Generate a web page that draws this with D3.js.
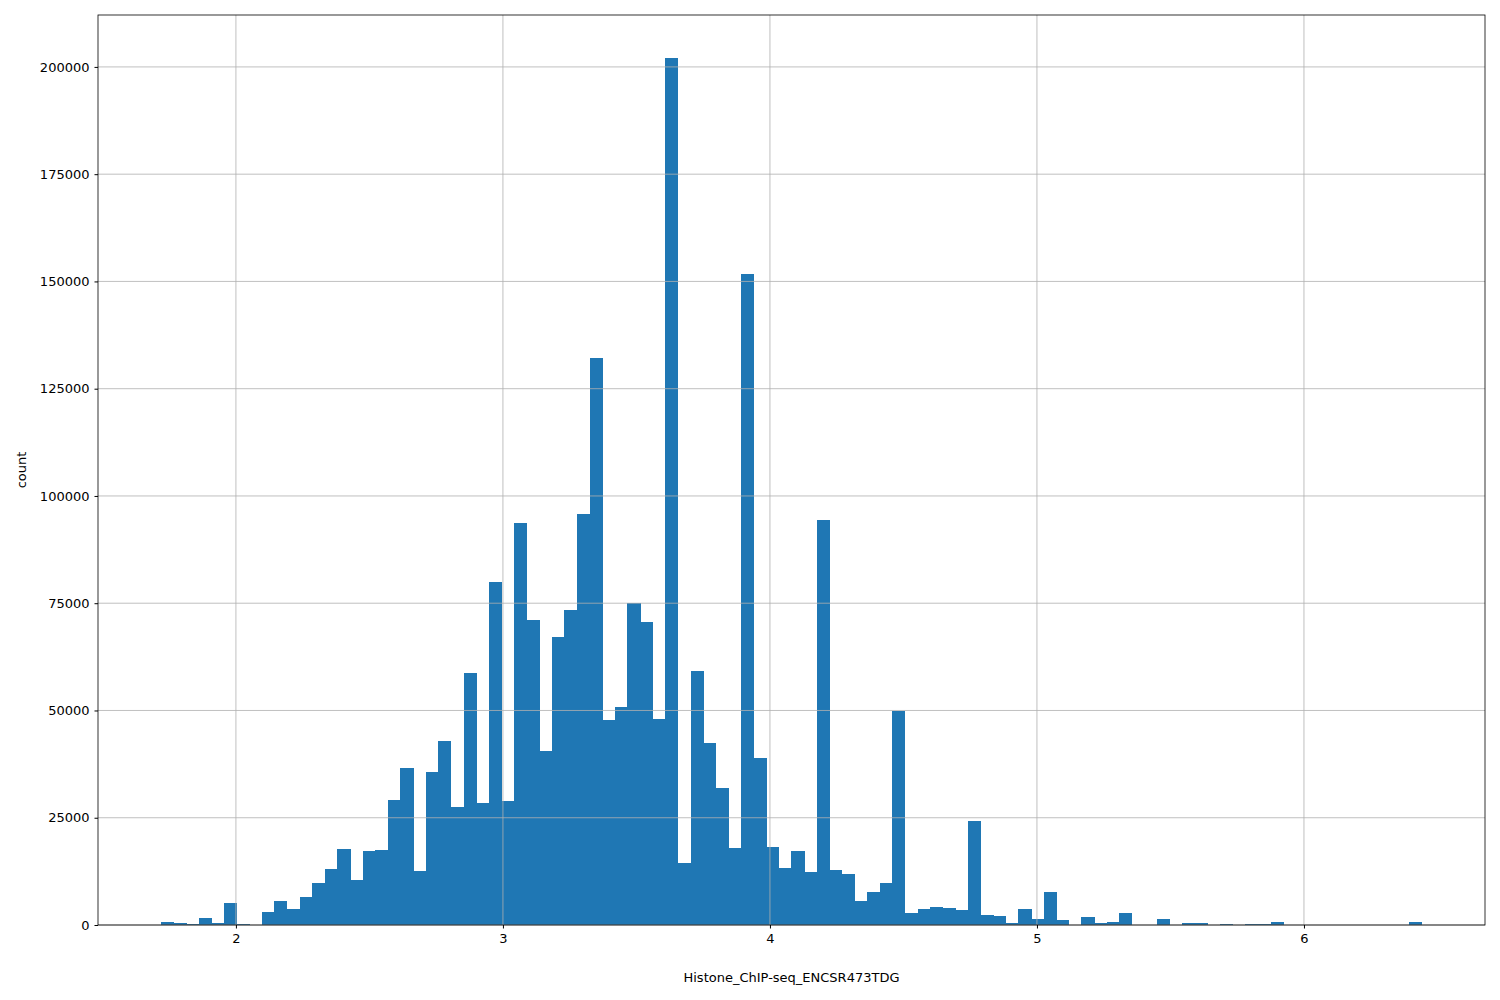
<!DOCTYPE html>
<html><head><meta charset="utf-8">
<script src="https://cdn.jsdelivr.net/npm/d3@7"></script>
<style>body{margin:0;background:#fff}svg{font-family:"DejaVu Sans",sans-serif}</style>
</head><body><svg id="c" width="1500" height="1000"></svg>
<script>
const binStart = 1.719, binWidth = 0.04723;
const counts = [700,500,200,1600,500,5200,200,0,3000,5500,3700,6500,9800,13000,17700,10500,17200,17500,29200,36600,12600,35700,43000,27500,58800,28500,80000,29000,93700,71200,40600,67100,73400,95900,132200,47800,50800,75100,70600,48000,202100,14500,59200,42500,32000,17900,151800,39000,18200,13300,17200,12300,94500,12800,11900,5500,7700,9700,49800,2800,3700,4200,3900,3500,24300,2300,2000,500,3700,1300,7700,1200,0,1800,500,700,2800,0,0,1400,0,400,400,0,200,0,200,200,700,0,0,0,0,0,0,0,0,0,0,700];
const xTicks = [2,3,4,5,6];
const yTicks = [0,25000,50000,75000,100000,125000,150000,175000,200000];
const xLabel = "Histone_ChIP-seq_ENCSR473TDG", yLabel = "count";

const L=98,R=1485,T=15,B=925;
const svg=d3.select("#c");
const x=d3.scaleLinear().domain([1.4835,6.678]).range([L,R]);
const y=d3.scaleLinear().domain([0,212100]).range([B,T]);
const g=svg.append("g").attr("shape-rendering","crispEdges");
g.selectAll("rect").data(counts).join("rect")
 .attr("x",(d,i)=>x(binStart+i*binWidth)).attr("width",(d,i)=>x(binStart+(i+1)*binWidth)-x(binStart+i*binWidth)+0.5)
 .attr("y",d=>y(d)).attr("height",d=>B-y(d)).attr("fill","#1f77b4");
const grid=svg.append("g").attr("stroke","#b0b0b0").attr("stroke-width",0.8);
xTicks.forEach(t=>grid.append("line").attr("x1",x(t)).attr("x2",x(t)).attr("y1",T).attr("y2",B));
yTicks.forEach(t=>grid.append("line").attr("x1",L).attr("x2",R).attr("y1",y(t)).attr("y2",y(t)));
const xa=svg.append("g").attr("transform",`translate(0,${B})`).call(d3.axisBottom(x).tickValues(xTicks).tickSize(3.5).tickPadding(5).tickFormat(d3.format("d")));
const ya=svg.append("g").attr("transform",`translate(${L},0)`).call(d3.axisLeft(y).tickValues(yTicks).tickSize(3.5).tickPadding(5).tickFormat(d3.format("d")));
[xa,ya].forEach(a=>{a.select(".domain").remove();a.selectAll("text").attr("font-size",13).attr("fill","#000").attr("font-family","DejaVu Sans");});
svg.append("rect").attr("x",L).attr("y",T).attr("width",R-L).attr("height",B-T).attr("fill","none").attr("stroke","#000").attr("stroke-width",0.8);
svg.append("text").attr("x",(L+R)/2).attr("y",982).attr("text-anchor","middle").attr("font-size",13).text(xLabel);
svg.append("text").attr("transform",`translate(26,${(T+B)/2}) rotate(-90)`).attr("text-anchor","middle").attr("font-size",13).text(yLabel);
</script></body></html>
